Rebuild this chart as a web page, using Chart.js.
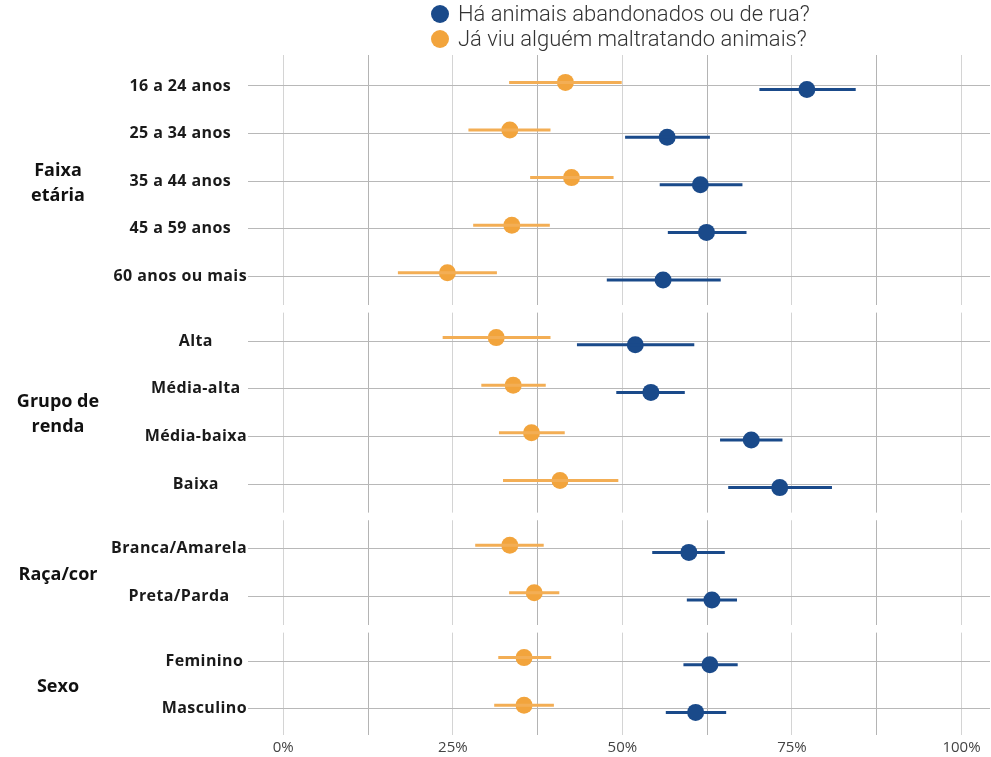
<!DOCTYPE html>
<html>
<head>
<meta charset="utf-8">
<script src="https://cdn.jsdelivr.net/npm/chart.js@4.4.0/dist/chart.umd.min.js"></script>
<style>
    body { margin: 0; background: #fff; }
    #wrap { position: relative; width: 991px; height: 757px; }
    #legend {
        position: absolute; left: 431px; top: 1px;
        font-family: 'Roboto', sans-serif; font-weight: 300;
        font-size: 22px; color: #333;
    }
    .item { display: flex; align-items: center; height: 25px; }
    .dot { width: 18px; height: 18px; border-radius: 50%; margin-right: 9px; }
</style>
</head>
<body>
<div id="wrap">
    <canvas id="chart" width="991" height="757"></canvas>
    <div id="legend"></div>
</div>
<script>
// Panels (facets) and their rows
const panelLabels = ['Faixa\netária', 'Grupo de\nrenda', 'Raça/cor', 'Sexo'];
const categories = [
    ['16 a 24 anos', '25 a 34 anos', '35 a 44 anos', '45 a 59 anos', '60 anos ou mais'],
    ['Alta', 'Média-alta', 'Média-baixa', 'Baixa'],
    ['Branca/Amarela', 'Preta/Parda'],
    ['Feminino', 'Masculino']
];

// Series, in the same order as the flattened categories (%)
const seriesNames = ['Há animais abandonados ou de rua?', 'Já viu alguém maltratando animais?'];
const abandonados     = [77.2, 56.6, 61.5, 62.4, 56.0, 51.9, 54.2, 69.0, 73.2, 59.8, 63.2, 62.9, 60.8];
const abandonadosLow  = [70.2, 50.4, 55.5, 56.7, 47.7, 43.3, 49.1, 64.4, 65.6, 54.4, 59.5, 59.0, 56.4];
const abandonadosHigh = [84.4, 62.9, 67.7, 68.3, 64.5, 60.6, 59.2, 73.6, 80.9, 65.1, 66.9, 67.0, 65.3];
const maltrato        = [41.6, 33.4, 42.5, 33.7, 24.2, 31.4, 33.9, 36.6, 40.8, 33.4, 37.0, 35.5, 35.5];
const maltratoLow     = [33.3, 27.3, 36.4, 28.0, 16.9, 23.5, 29.2, 31.8, 32.4, 28.3, 33.3, 31.7, 31.1];
const maltratoHigh    = [49.9, 39.4, 48.7, 39.3, 31.5, 39.4, 38.7, 41.5, 49.4, 38.4, 40.7, 39.5, 39.9];

// x axis ticks (gridlines every 12.5%, labels every 25%)
const xTicks = [0, 12.5, 25, 37.5, 50, 62.5, 75, 87.5, 100];

const BLUE = '#1a4a8a';
const ORANGE = '#f2a43c';
const ORANGE_LINE = '#f3ae55';
const PANEL_GAP = 1.36;  // distance between last row of a panel and first row of the next
const DODGE = 0.075;

// row positions on the y scale
const rowPos = [];
const panelRange = [];
let pos = 0;
categories.forEach(cats => {
    const first = pos;
    cats.forEach(() => { rowPos.push(pos); pos += 1; });
    panelRange.push([first, pos - 1]);
    pos += PANEL_GAP - 1;
});
const lastRow = rowPos[rowPos.length - 1];

function ciData(low, high, offset) {
    const out = [];
    low.forEach((lo, i) => {
        out.push({ x: lo, y: rowPos[i] + offset });
        out.push({ x: high[i], y: rowPos[i] + offset });
        out.push({ x: null, y: null });
    });
    return out;
}

function pointData(values, offset) {
    return values.map((v, i) => ({ x: v, y: rowPos[i] + offset }));
}

// html legend
document.getElementById('legend').innerHTML = seriesNames.map((name, i) => `
    <div class="item"><span class="dot" style="background:${i === 0 ? BLUE : ORANGE}"></span>${name}</div>
`).join('');

const facetPlugin = {
    id: 'facets',
    beforeDatasetsDraw(chart) {
        const { ctx, chartArea, scales } = chart;
        const y = scales.y;
        ctx.save();
        ctx.fillStyle = '#fff';
        for (let p = 0; p < panelRange.length - 1; p++) {
            const top = y.getPixelForValue(panelRange[p][1] + 0.6);
            const bottom = y.getPixelForValue(panelRange[p + 1][0] - 0.6);
            ctx.fillRect(chartArea.left - 1, top, chartArea.right - chartArea.left + 2, bottom - top);
        }
        ctx.restore();
    },
    afterDraw(chart) {
        const { ctx, chartArea, scales } = chart;
        const y = scales.y;
        ctx.save();
        // row labels, centred on the widest label of each panel
        ctx.font = 'bold 16px "Open Sans"';
        ctx.letterSpacing = '0.4px';
        ctx.fillStyle = '#1a1a1a';
        ctx.textAlign = 'center';
        ctx.textBaseline = 'middle';
        let idx = 0;
        categories.forEach(cats => {
            const maxW = Math.max(...cats.map(c => ctx.measureText(c).width));
            const cx = chartArea.left - 1 - maxW / 2;
            cats.forEach(c => {
                ctx.fillText(c, cx, y.getPixelForValue(rowPos[idx]));
                idx++;
            });
        });
        // facet labels
        ctx.letterSpacing = '0px';
        ctx.font = 'bold 18px "Open Sans"';
        ctx.fillStyle = '#111';
        panelLabels.forEach((lab, p) => {
            const mid = (y.getPixelForValue(panelRange[p][0]) + y.getPixelForValue(panelRange[p][1])) / 2;
            const lines = lab.split('\n');
            lines.forEach((ln, k) => {
                ctx.fillText(ln, 58, mid + (k - (lines.length - 1) / 2) * 25 + 2);
            });
        });
        ctx.restore();
    }
};

const chart = new Chart(document.getElementById('chart'), {
    type: 'scatter',
    data: {
        datasets: [
            { label: seriesNames[0] + ' IC', data: ciData(abandonadosLow, abandonadosHigh, DODGE), showLine: true,
              borderColor: BLUE, borderWidth: 3, pointRadius: 0, spanGaps: false },
            { label: seriesNames[1] + ' IC', data: ciData(maltratoLow, maltratoHigh, -DODGE), showLine: true,
              borderColor: ORANGE_LINE, borderWidth: 3, pointRadius: 0, spanGaps: false },
            { label: seriesNames[0], data: pointData(abandonados, DODGE), pointRadius: 8.5,
              backgroundColor: BLUE, borderWidth: 0 },
            { label: seriesNames[1], data: pointData(maltrato, -DODGE), pointRadius: 8.5,
              backgroundColor: ORANGE, borderWidth: 0 }
        ]
    },
    options: {
        responsive: false,
        animation: false,
        layout: { autoPadding: false, padding: { top: 55, right: 1, left: 0, bottom: 0 } },
        plugins: { legend: { display: false }, tooltip: { enabled: false } },
        scales: {
            x: {
                type: 'linear', min: -5.2, max: 104.2,
                afterBuildTicks: s => { s.ticks = xTicks.map(v => ({ value: v })); },
                afterFit: s => { s.height = 22; s.paddingLeft = 0; s.paddingRight = 0; },
                ticks: {
                    autoSkip: false, maxRotation: 0, padding: 4,
                    color: '#444', font: { family: 'Open Sans', size: 15 },
                    callback: v => (v % 25 === 0 ? v + '%' : '')
                },
                grid: {
                    color: c => (c.tick && c.tick.value % 25 === 0 ? '#d4d4d4' : '#b4b4b4'),
                    drawTicks: false
                },
                border: { display: false }
            },
            y: {
                type: 'linear', reverse: true, min: -0.65, max: lastRow + 0.55,
                afterBuildTicks: s => { s.ticks = rowPos.map(v => ({ value: v })); },
                afterFit: s => { s.width = 248; },
                ticks: { display: false },
                grid: { color: '#b8b8b8', drawTicks: false },
                border: { display: false }
            }
        }
    },
    plugins: [facetPlugin]
});
</script>
</body>
</html>
